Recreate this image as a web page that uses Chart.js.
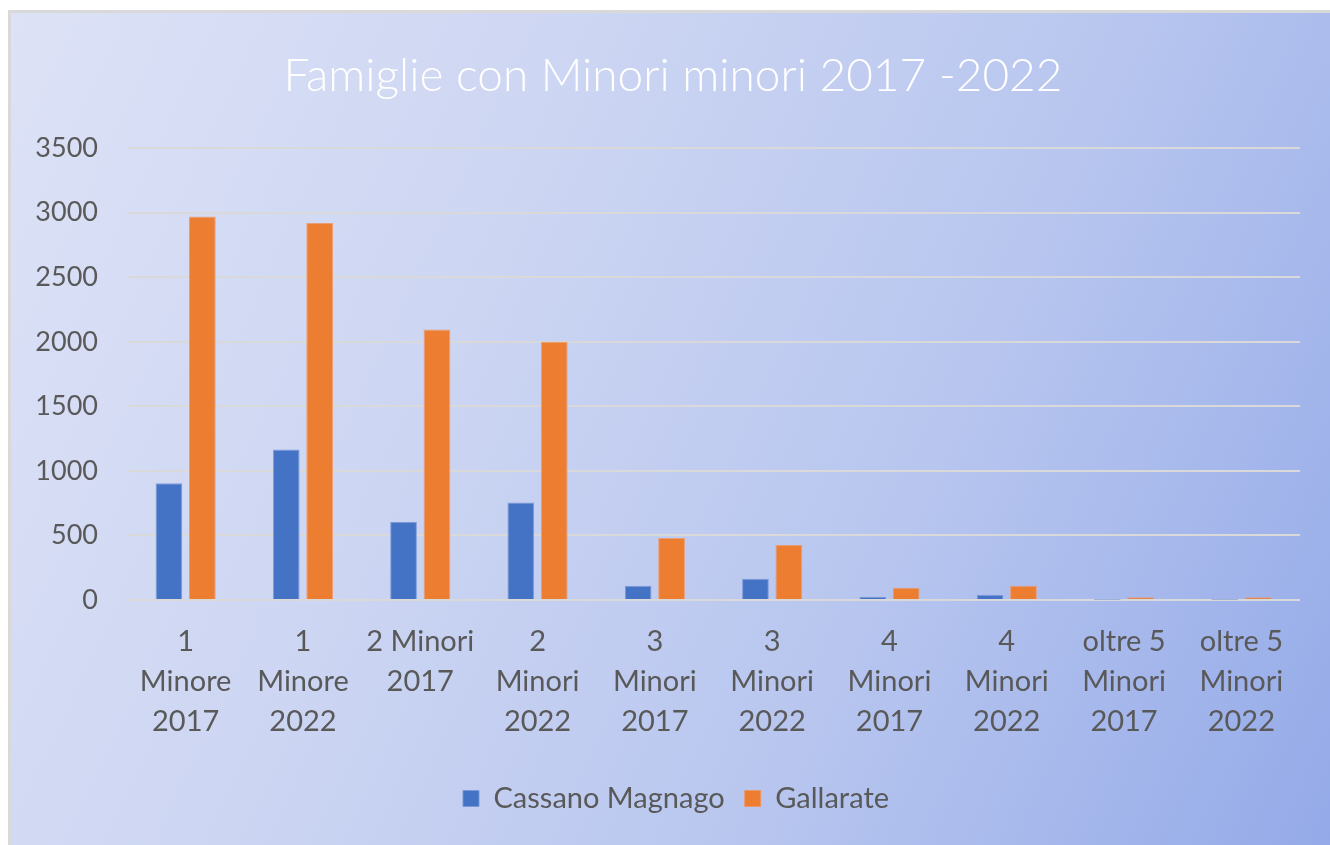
<!DOCTYPE html>
<html>
<head>
<meta charset="utf-8">
<script src="https://cdn.jsdelivr.net/npm/chart.js@4/dist/chart.umd.min.js"></script>
<style>
  html, body { margin: 0; padding: 0; background: #ffffff; width: 1330px; height: 845px; overflow: hidden; }
  #frame {
    position: absolute; left: 8px; top: 10px; width: 1330px; height: 845px;
    border-top: 3px solid #d9d9d9; border-left: 3px solid #d9d9d9;
    background: linear-gradient(115deg, #dde2f6 0%, #ccd5f2 35%, #b8c6ef 65%, #93a9e8 100%);
  }
  #c { position: absolute; left: 0; top: 0; }
</style>
</head>
<body>
<div id="frame"></div>
<canvas id="c" width="1330" height="845"></canvas>
<script>
const categories = [
  ["1", "Minore", "2017"],
  ["1", "Minore", "2022"],
  ["2 Minori", "2017"],
  ["2", "Minori", "2022"],
  ["3", "Minori", "2017"],
  ["3", "Minori", "2022"],
  ["4", "Minori", "2017"],
  ["4", "Minori", "2022"],
  ["oltre 5", "Minori", "2017"],
  ["oltre 5", "Minori", "2022"]
];
const cassanoMagnago = [905, 1165, 605, 755, 110, 165, 25, 40, 2, 2];
const gallarate = [2970, 2920, 2095, 2000, 480, 425, 95, 110, 20, 20];
const yTicks = [0, 500, 1000, 1500, 2000, 2500, 3000, 3500];
const titleText = "Famiglie con Minori minori 2017 -2022";

const FONT = "Lato, 'Liberation Sans', sans-serif";
const TXT = "#595959";

// shift title and legend horizontally so they are centred like the original
const centerShift = {
  id: "centerShift",
  afterLayout(chart) {
    if (chart.titleBlock) { chart.titleBlock.left += 19; chart.titleBlock.right += 19; }
    if (chart.legend) { chart.legend.left += 22; chart.legend.right += 22; }
  }
};

new Chart(document.getElementById("c"), {
  type: "bar",
  data: {
    labels: categories,
    datasets: [
      { label: "Cassano Magnago", data: cassanoMagnago, backgroundColor: "#4472c4",
        borderColor: "rgba(120,150,215,0.9)", borderWidth: 1,
        categoryPercentage: 0.57, barPercentage: 0.8 },
      { label: "Gallarate", data: gallarate, backgroundColor: "#ed7d31",
        borderColor: "rgba(240,150,100,0.9)", borderWidth: 1,
        categoryPercentage: 0.57, barPercentage: 0.8 }
    ]
  },
  plugins: [centerShift],
  options: {
    responsive: false,
    animation: false,
    layout: { padding: { left: 8, right: 30, top: 0, bottom: 22 } },
    plugins: {
      title: {
        display: true, text: titleText, color: "#ffffff",
        font: { family: FONT, size: 46, weight: 300, lineHeight: 1.2 },
        padding: { top: 49, bottom: 44 }
      },
      legend: {
        position: "bottom",
        labels: {
          color: TXT, font: { family: FONT, size: 29 },
          boxWidth: 16, boxHeight: 16, padding: 20
        }
      },
      tooltip: { enabled: false }
    },
    scales: {
      x: {
        grid: { display: false, drawTicks: false },
        border: { display: false },
        ticks: { color: TXT, font: { family: FONT, size: 29, lineHeight: 1.38 },
                 padding: 22, maxRotation: 0, autoSkip: false }
      },
      y: {
        min: 0, max: 3500,
        afterBuildTicks: (axis) => { axis.ticks = yTicks.map(v => ({ value: v })); },
        afterFit: (axis) => { axis.width = 119; },
        grid: { color: "#d9d9d9", lineWidth: 2, drawTicks: false },
        border: { display: false },
        ticks: { color: TXT, font: { family: FONT, size: 27 }, padding: 29,
                 callback: (v) => String(v) }
      }
    }
  }
});
</script>
</body>
</html>
